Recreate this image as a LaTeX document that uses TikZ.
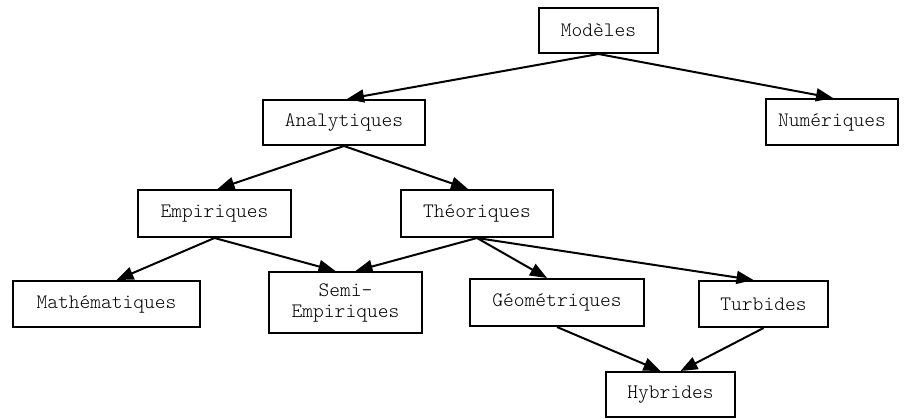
\documentclass[tikz,border=0pt]{standalone}
\usepackage{fontspec}
\setmainfont{Latin Modern Mono Light}
\usetikzlibrary{arrows.meta}
\begin{document}
\begin{tikzpicture}[x=1pt,y=-1pt,
  box/.style={draw, line width=2pt, inner sep=0pt, align=center, font=\fontsize{20.5}{21}\selectfont},
  edge/.style={line width=2pt, -{Triangle[length=17pt,width=13pt]}}]
\useasboundingbox (0,0) rectangle (907,418);
\node[box, minimum width=119pt, minimum height=45pt] (mod) at (598.5,30.5) {Modèles};
\node[box, minimum width=162pt, minimum height=45pt] (ana) at (344,122.5) {Analytiques};
\node[box, minimum width=132pt, minimum height=46pt] (num) at (832,122) {Numériques};
\node[box, minimum width=153pt, minimum height=47pt] (emp) at (214.5,213.5) {Empiriques};
\node[box, minimum width=152pt, minimum height=47pt] (the) at (477,213.5) {Théoriques};
\node[box, minimum width=187pt, minimum height=46pt] (mat) at (106.5,304) {Mathématiques};
\node[box, minimum width=153pt, minimum height=61pt] (semi) at (345.5,302.5) {Semi-\\Empiriques};
\node[box, minimum width=174pt, minimum height=47pt] (geo) at (557,302.5) {Géométriques};
\node[box, minimum width=129pt, minimum height=46pt] (tur) at (763.5,304) {Turbides};
\node[box, minimum width=129pt, minimum height=45pt] (hyb) at (670.5,394.5) {Hybrides};
\draw[edge] (mod.south) -- ([xshift=3pt]ana.north);
\draw[edge] (mod.south) -- ([xshift=1pt]num.north);
\draw[edge] (ana.south) -- ([xshift=3pt]emp.north);
\draw[edge] (ana.south) -- ([xshift=-9pt]the.north);
\draw[edge] (emp.south) -- ([xshift=10pt]mat.north);
\draw[edge] (emp.south) -- ([xshift=-10pt]semi.north);
\draw[edge] (the.south) -- ([xshift=10pt]semi.north);
\draw[edge] (the.south) -- ([xshift=-10pt]geo.north);
\draw[edge] (the.south) -- ([xshift=-10pt]tur.north);
\draw[edge] (geo.south) -- ([xshift=-10pt]hyb.north);
\draw[edge] (tur.south) -- ([xshift=10pt]hyb.north);
\end{tikzpicture}
\end{document}
